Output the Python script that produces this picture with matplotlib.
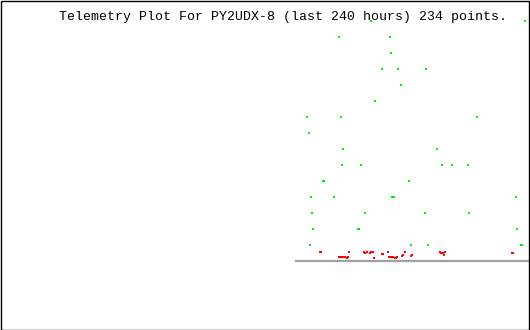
import matplotlib
matplotlib.use("Agg")
import matplotlib.pyplot as plt
from matplotlib.patches import Rectangle

title = "Telemetry Plot For PY2UDX-8 (last 240 hours) 234 points."

# green series: hours relative to now, value
green_hours = [-86.4, -63.3, -71.8, -2.3, -62.8, -66.9, -59.6, -47.0, -58.3, -70.1,
               -100.8, -85.4, -23.9, -99.9, -84.5, -42.0, -85.0, -76.4, -39.7, -35.2,
               -27.9, -93.6, -93.2, -54.7, -99.0, -88.6, -62.3, -61.8, -6.2, -98.6,
               -74.6, -47.4, -27.5, -98.1, -77.8, -77.3, -5.8, -99.5, -53.8, -46.1,
               -4.0, -3.5]
green_values = [14, 14, 15, 15, 13, 12, 12, 12, 11, 10,
                9, 9, 9, 8, 7, 7, 6, 6, 6, 6,
                6, 5, 5, 5, 4, 4, 4, 4, 4, 3,
                3, 3, 3, 2, 2, 2, 2, 1, 1, 1,
                1, 1]

# red series
red_hours = [-95.1, -94.8, -86.5, -86.0, -85.6, -85.1, -84.7, -84.2, -83.8, -83.0,
             -82.3, -81.8, -75.0, -74.6, -73.7, -72.3, -71.9, -71.0, -70.5, -66.9,
             -66.4, -64.2, -63.7, -63.3, -62.8, -62.4, -61.9, -61.3, -60.8, -60.4,
             -58.0, -57.4, -56.8, -56.4, -54.0, -53.4, -40.6, -40.2, -39.7, -39.3,
             -38.8, -38.4, -8.1, -7.6]
red_values = [0.56, 0.56, 0.27, 0.27, 0.27, 0.27, 0.27, 0.27, 0.27, 0.2,
              0.27, 0.56, 0.56, 0.5, 0.56, 0.5, 0.56, 0.56, 0.2, 0.46,
              0.46, 0.56, 0.27, 0.27, 0.27, 0.27, 0.27, 0.2, 0.2, 0.27,
              0.33, 0.39, 0.56, 0.56, 0.33, 0.39, 0.56, 0.5, 0.5, 0.5,
              0.375, 0.56, 0.5, 0.5]

axis_start = -106.4

fig = plt.figure(figsize=(5.3, 3.3), dpi=100)
fig.patch.set_facecolor("white")
ax = fig.add_axes([0, 0, 1, 1])
ax.set_xlim(-240, 0)
ax.set_ylim(-4.3125, 16.3125)
ax.axis("off")

ax.plot([axis_start, 0], [0, 0], color="#a0a0a0", lw=1.6, solid_capstyle="butt", zorder=1)

bar = [(-0.25, -0.5), (0.25, -0.5), (0.25, 0.5), (-0.25, 0.5)]
ax.plot(green_hours, green_values, linestyle="none", marker=bar, markersize=1.6,
        color="#00ee00", markeredgewidth=0, zorder=3)
ax.plot(red_hours, red_values, linestyle="none", marker=bar, markersize=1.7,
        color="#ff0000", markeredgewidth=0, zorder=3)

fig.text(283 / 530, 1 - 17 / 330, title, ha="center", va="center",
         family=["Liberation Mono", "DejaVu Sans Mono"], fontsize=9.5, color="black")

fig.patches.append(Rectangle((0.001, 0.0015), 0.997, 0.996, transform=fig.transFigure,
                             fill=False, edgecolor="black", linewidth=1.0, zorder=10))

fig.savefig("out.png", dpi=100)
